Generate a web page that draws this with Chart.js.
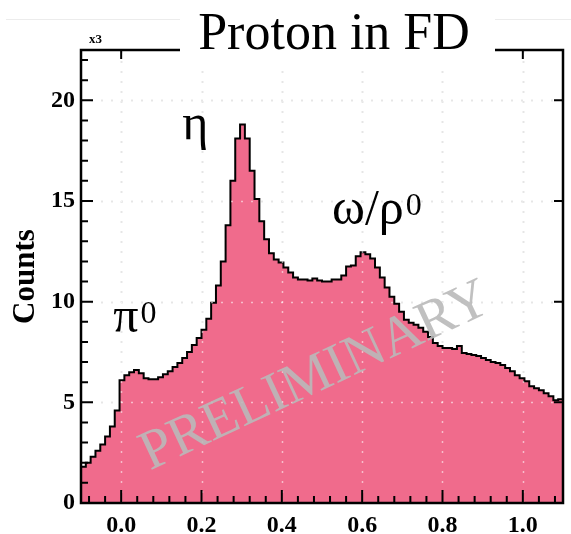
<!DOCTYPE html>
<html>
<head>
<meta charset="utf-8">
<script src="https://cdn.jsdelivr.net/npm/chart.js@4/dist/chart.umd.min.js"></script>
<style>
  html, body { margin: 0; padding: 0; background: #fff; }
</style>
</head>
<body>
<canvas id="chart" width="571" height="534"></canvas>
<script>
// binning of the histogram: 100 bins from -0.1 to 1.1
var xMin = -0.1,
    binWidth = 0.012;

// counts per bin, in thousands (axis is x3)
var counts = [
  1.8, 2.0, 2.3, 2.6, 2.9, 3.3, 3.8, 4.6, 6.1, 6.35,
  6.5, 6.6, 6.45, 6.2, 6.15, 6.15, 6.25, 6.4, 6.55, 6.75,
  6.95, 7.2, 7.5, 7.85, 8.2, 8.6, 9.15, 9.95, 10.8, 12.0,
  13.8, 16.0, 18.1, 18.8, 18.1, 16.5, 15.1, 14.0, 13.1, 12.4,
  12.1, 11.95, 11.7, 11.45, 11.2, 11.1, 11.1, 11.05, 11.15, 11.05,
  11.0, 11.0, 11.1, 11.1, 11.3, 11.75, 11.8, 12.25, 12.45, 12.35,
  12.15, 11.7, 11.2, 10.7, 10.25, 9.9, 9.5, 9.1, 8.95, 8.85,
  8.7, 8.5, 8.25, 7.95, 7.8, 7.7, 7.7, 7.65, 7.8, 7.45,
  7.4, 7.35, 7.3, 7.2, 7.1, 7.0, 6.95, 6.85, 6.7, 6.55,
  6.35, 6.2, 6.05, 5.8, 5.7, 5.6, 5.45, 5.3, 5.1, 5.15
];

var xTicks = [0.0, 0.2, 0.4, 0.6, 0.8, 1.0];
var yTicks = [0, 5, 10, 15, 20];
var xMinorStep = 0.04,
    yMinorStep = 1;

var serif = '"Liberation Serif", "DejaVu Serif", serif';

// histogram -> stepped line, one point per bin low edge + last edge
var points = counts.map(function(c, i) {
  return { x: xMin + i * binWidth, y: c };
});
points.push({ x: xMin + counts.length * binWidth, y: counts[counts.length - 1] });

function drawGrid(chart, color) {
  var ctx = chart.ctx, a = chart.chartArea;
  var xs = chart.scales.x, ys = chart.scales.y;
  ctx.save();
  ctx.strokeStyle = color;
  ctx.lineWidth = 1.5;
  ctx.setLineDash([2, 8]);
  xTicks.forEach(function(v) {
    var px = Math.round(xs.getPixelForValue(v)) + 0.5;
    ctx.beginPath(); ctx.moveTo(px, a.bottom); ctx.lineTo(px, a.top); ctx.stroke();
  });
  yTicks.forEach(function(v) {
    if (v == 0) return;
    var py = Math.round(ys.getPixelForValue(v)) + 0.5;
    ctx.beginPath(); ctx.moveTo(a.left, py); ctx.lineTo(a.right, py); ctx.stroke();
  });
  ctx.restore();
} // drawGrid

// greek label with an optional superscript
function drawLabel(ctx, text, sup, px, py) {
  ctx.font = '50px ' + serif;
  ctx.textAlign = 'left';
  ctx.textBaseline = 'alphabetic';
  ctx.fillText(text, px, py);
  if (sup) {
    var w = ctx.measureText(text).width;
    ctx.font = '32px ' + serif;
    ctx.fillText(sup, px + w + 2, py - 9);
  }
} // drawLabel

var rootStyle = {
  id: 'rootStyle',
  beforeDatasetsDraw: function(chart) {
    drawGrid(chart, '#c8c8c8');
  },
  afterDatasetsDraw: function(chart) {
    var ctx = chart.ctx, a = chart.chartArea;
    var xs = chart.scales.x, ys = chart.scales.y;

    drawGrid(chart, 'rgba(255,255,255,0.55)');

    ctx.save();
    // ticks, pointing inside the frame
    ctx.strokeStyle = '#000';
    ctx.lineWidth = 2;
    ctx.beginPath();
    for (var v = -0.08; v < 1.1; v += xMinorStep) {
      var px = xs.getPixelForValue(v);
      ctx.moveTo(px, a.bottom); ctx.lineTo(px, a.bottom - 7);
    }
    for (var k = yMinorStep; k < 22.5; k += yMinorStep) {
      var py = ys.getPixelForValue(k);
      ctx.moveTo(a.left, py); ctx.lineTo(a.left + 7, py);
    }
    xTicks.forEach(function(t) {
      var px = xs.getPixelForValue(t);
      ctx.moveTo(px, a.bottom); ctx.lineTo(px, a.bottom - 13);
      ctx.moveTo(px, a.top); ctx.lineTo(px, a.top + 9);
    });
    yTicks.forEach(function(t) {
      var py = ys.getPixelForValue(t);
      ctx.moveTo(a.left, py); ctx.lineTo(a.left + 12, py);
      ctx.moveTo(a.right, py); ctx.lineTo(a.right - 9, py);
    });
    ctx.stroke();

    // frame
    ctx.lineWidth = 2.5;
    ctx.strokeRect(a.left, a.top, a.right - a.left, a.bottom - a.top);

    // multiplier
    ctx.fillStyle = '#000';
    ctx.font = 'bold 13px ' + serif;
    ctx.textAlign = 'left';
    ctx.fillText('x3', 89, 43);

    // peak labels
    drawLabel(ctx, '\u03b7', null, xs.getPixelForValue(0.152), ys.getPixelForValue(18.1));
    drawLabel(ctx, '\u03c0', '0', xs.getPixelForValue(-0.02), ys.getPixelForValue(8.5));
    drawLabel(ctx, '\u03c9/\u03c1', '0', xs.getPixelForValue(0.525), ys.getPixelForValue(13.85));

    // watermark
    ctx.save();
    ctx.translate(xs.getPixelForValue(0.5), ys.getPixelForValue(5.6));
    ctx.rotate(-25 * Math.PI / 180);
    ctx.font = '56px ' + serif;
    ctx.textAlign = 'center';
    ctx.fillStyle = 'rgba(185,185,185,0.9)';
    ctx.fillText('PRELIMINARY', 0, 0);
    ctx.restore();

    // faint top line and title box
    ctx.strokeStyle = '#ececec';
    ctx.lineWidth = 1;
    ctx.beginPath(); ctx.moveTo(6, 19.5); ctx.lineTo(571, 19.5); ctx.stroke();
    ctx.fillStyle = '#fff';
    ctx.fillRect(180, 0, 315, 64);
    ctx.fillStyle = '#000';
    ctx.font = '52px ' + serif;
    ctx.textAlign = 'center';
    ctx.fillText('Proton in FD', 334, 49);
    ctx.restore();
  }
};

new Chart(document.getElementById('chart'), {
  type: 'line',
  data: {
    datasets: [{
      data: points,
      stepped: true,
      borderColor: '#000',
      borderWidth: 2,
      backgroundColor: '#f06b8c',
      fill: 'origin',
      pointRadius: 0,
      tension: 0
    }]
  },
  options: {
    responsive: false,
    animation: false,
    layout: { padding: { top: 50, right: 8, left: 0, bottom: 0 } },
    plugins: { legend: { display: false }, tooltip: { enabled: false } },
    scales: {
      x: {
        type: 'linear',
        min: -0.1,
        max: 1.1,
        grid: { display: false, drawTicks: false },
        border: { display: false },
        afterFit: function(s) { s.height = 31; },
        afterBuildTicks: function(s) {
          s.ticks = xTicks.map(function(v) { return { value: v }; });
        },
        ticks: {
          padding: 8,
          color: '#000',
          font: { family: serif, size: 24, weight: 'bold' },
          callback: function(v) { return Number(v).toFixed(1); }
        }
      },
      y: {
        min: 0,
        max: 22.5,
        grid: { display: false, drawTicks: false },
        border: { display: false },
        afterFit: function(s) { s.width = 81; },
        afterBuildTicks: function(s) {
          s.ticks = yTicks.map(function(v) { return { value: v }; });
        },
        title: {
          display: true,
          text: 'Counts',
          color: '#000',
          font: { family: serif, size: 31, weight: 'bold' },
          padding: { top: 7, bottom: 0 }
        },
        ticks: {
          padding: 6,
          color: '#000',
          font: { family: serif, size: 24, weight: 'bold' }
        }
      }
    }
  },
  plugins: [rootStyle]
});
</script>
</body>
</html>
